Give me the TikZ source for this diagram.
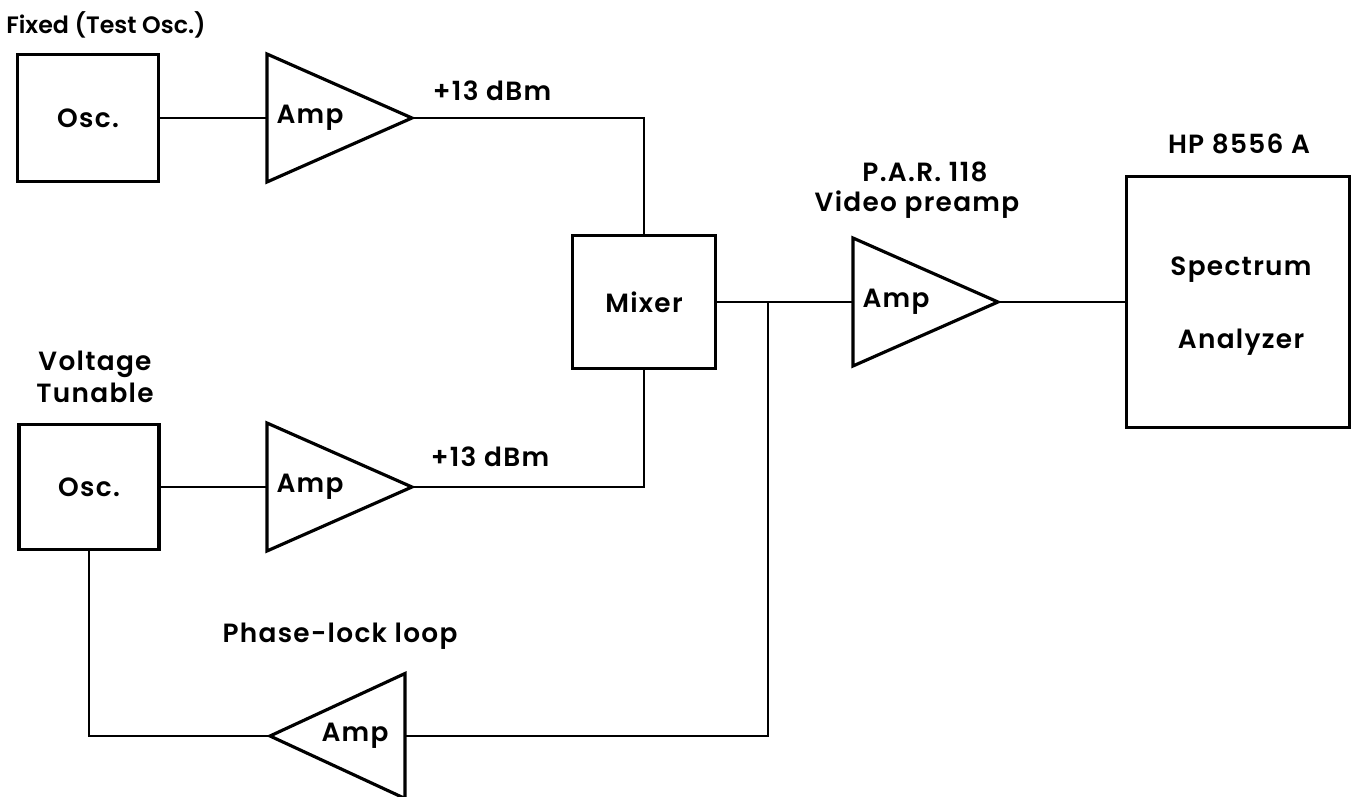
\documentclass[tikz,border=0pt]{standalone}
\usepackage{fontspec}
\setmainfont{Poppins}[BoldFont={Poppins SemiBold}, LetterSpace=5]
\usepackage{tikz}
\usetikzlibrary{shapes.geometric}

\begin{document}
\begin{tikzpicture}[x=0.02cm,y=-0.02cm,
  blk/.style={draw, line width=1.8pt, minimum width=#1, inner sep=0pt, outer sep=0pt},
  amp/.style={draw, line width=1.8pt, isosceles triangle, isosceles triangle stretches,
    minimum height=2.9cm, minimum width=2.56cm, inner sep=0pt, outer sep=0pt},
  lbl/.style={font=\fontsize{15}{18}\selectfont\bfseries, inner sep=0pt},
  wire/.style={line width=1.1pt}]
\useasboundingbox (0,0) rectangle (1360,797);
\node[lbl, font=\fontsize{13.5}{16}\selectfont\bfseries\addfontfeatures{LetterSpace=0}] (fixtxt) at (106,25) {Fixed (Test Osc.)};
\node[blk=2.82cm, minimum height=2.54cm] (osc1) at (88,118) {};
\node[lbl] at (osc1) {Osc.};
\node[amp, anchor=lower side] (amp1) at (267,118) {};
\node[lbl] (amp1txt) at (310,118) {Amp};
\node[lbl] (dbm1) at (492,91) {+13 dBm};
\node[lbl, align=center] (vtxt) at (95,377) {Voltage\\Tunable};
\node[blk=2.8cm, minimum height=2.5cm] (osc2) at (89,487) {};
\node[lbl] at (osc2) {Osc.};
\node[amp, anchor=lower side] (amp2) at (267,487) {};
\node[lbl] (amp2txt) at (310,487) {Amp};
\node[lbl] (dbm2) at (490,457) {+13 dBm};
\node[blk=2.86cm, minimum height=2.66cm] (mixer) at (644,302) {};
\node[lbl] at (mixer) {Mixer};
\node[lbl] (partxt) at (925,172) {P.A.R. 118};
\node[lbl] (vidtxt) at (917,205) {Video preamp};
\node[amp, anchor=lower side] (pre) at (853,302) {};
\node[lbl] (pretxt) at (896,302) {Amp};
\node[lbl] (hptxt) at (1239,144) {HP 8556 A};
\node[blk=4.46cm, minimum height=5.02cm] (spec) at (1238,302) {};
\node[lbl] (spectxt) at (1241,270) {Spectrum};
\node[lbl] (anatxt) at (1241,342) {Analyzer};
\node[lbl] (plltxt) at (340,636) {Phase-lock loop};
\node[amp, shape border rotate=180, minimum height=2.7cm, minimum width=2.5cm, anchor=apex] (fb) at (270,736) {};
\node[lbl] (fbtxt) at (355,736) {Amp};
\coordinate (jn) at (768,302);
\draw[wire] (osc1.east) -- (amp1.lower side);
\draw[wire] (amp1.apex) -| (mixer.north);
\draw[wire] (osc2.east) -- (amp2.lower side);
\draw[wire] (amp2.apex) -| (mixer.south);
\draw[wire] (mixer.east) -- (pre.lower side);
\draw[wire] (pre.apex) -- (spec.west);
\draw[wire] (jn) |- (fb.lower side);
\draw[wire] (fb.apex) -| (osc2.south);
\end{tikzpicture}
\end{document}
